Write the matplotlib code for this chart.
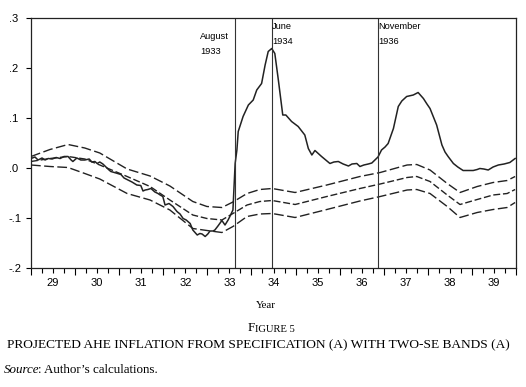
import matplotlib
matplotlib.use("Agg")
import matplotlib.pyplot as plt
import numpy as np

plt.rcParams['font.family'] = ['Liberation Sans', 'DejaVu Sans']

# two-SE band grid (years) and band values
band_t = [1929.00, 1929.43, 1929.84, 1930.22, 1930.56, 1931.18, 1931.70, 1932.15,
          1932.67, 1932.99, 1933.33, 1933.58, 1933.90, 1934.19, 1934.47, 1934.99,
          1935.71, 1936.46, 1936.92, 1937.53, 1937.75, 1938.05, 1938.44, 1938.73,
          1939.12, 1939.48, 1939.80, 1939.98]
band_upper = [0.023, 0.037, 0.047, 0.040, 0.030, -0.002, -0.016, -0.036,
              -0.067, -0.077, -0.079, -0.068, -0.051, -0.043, -0.041, -0.049,
              -0.034, -0.017, -0.009, 0.006, 0.007, -0.004, -0.031, -0.049,
              -0.037, -0.029, -0.025, -0.017]
band_mid = [0.013, 0.019, 0.023, 0.018, 0.006, -0.017, -0.037, -0.064,
            -0.094, -0.101, -0.104, -0.091, -0.074, -0.067, -0.065, -0.073,
            -0.057, -0.041, -0.032, -0.019, -0.017, -0.027, -0.054, -0.073,
            -0.063, -0.054, -0.051, -0.043]
band_lower = [0.006, 0.003, 0.001, -0.011, -0.022, -0.051, -0.064, -0.084,
              -0.121, -0.125, -0.129, -0.117, -0.097, -0.092, -0.091, -0.099,
              -0.083, -0.066, -0.057, -0.044, -0.043, -0.051, -0.077, -0.099,
              -0.089, -0.083, -0.079, -0.069]

# actual AHE inflation
ahe_t = [1929.00, 1929.09, 1929.16, 1929.25, 1929.32, 1929.39, 1929.48, 1929.57,
         1929.66, 1929.75, 1929.84, 1929.91, 1929.95, 1930.04, 1930.13, 1930.22,
         1930.32, 1930.38, 1930.45, 1930.50, 1930.56, 1930.63, 1930.70, 1930.77,
         1930.81, 1930.93, 1931.04, 1931.11, 1931.20, 1931.29, 1931.40, 1931.49,
         1931.54, 1931.59, 1931.65, 1931.72, 1931.81, 1931.88, 1931.93, 1931.99,
         1932.04, 1932.13, 1932.22, 1932.31, 1932.38, 1932.45, 1932.52, 1932.61,
         1932.67, 1932.77, 1932.83, 1932.88, 1932.95, 1933.01, 1933.06, 1933.13,
         1933.17, 1933.24, 1933.33, 1933.40, 1933.47, 1933.51, 1933.58, 1933.63,
         1933.67, 1933.70, 1933.81, 1933.93, 1934.04, 1934.12, 1934.23, 1934.31,
         1934.38, 1934.46, 1934.53, 1934.61, 1934.71, 1934.78, 1934.91, 1935.06,
         1935.21, 1935.29, 1935.37, 1935.44, 1935.59, 1935.78, 1935.87, 1935.97,
         1936.08, 1936.20, 1936.28, 1936.39, 1936.46, 1936.55, 1936.65, 1936.73,
         1936.80, 1936.87, 1936.95, 1937.03, 1937.10, 1937.22, 1937.33, 1937.41,
         1937.52, 1937.67, 1937.78, 1937.90, 1937.98, 1938.05, 1938.20, 1938.32,
         1938.39, 1938.46, 1938.58, 1938.68, 1938.80, 1938.91, 1939.03, 1939.12,
         1939.18, 1939.27, 1939.37, 1939.48, 1939.60, 1939.73, 1939.86, 1939.98]
ahe_v = [0.019, 0.022, 0.016, 0.020, 0.016, 0.019, 0.018, 0.021,
         0.019, 0.023, 0.023, 0.016, 0.013, 0.020, 0.016, 0.016,
         0.018, 0.012, 0.013, 0.009, 0.012, 0.008, 0.002, -0.004,
         -0.007, -0.010, -0.013, -0.020, -0.024, -0.028, -0.034, -0.035,
         -0.046, -0.044, -0.043, -0.041, -0.048, -0.051, -0.054, -0.057,
         -0.074, -0.071, -0.077, -0.087, -0.092, -0.101, -0.104, -0.111,
         -0.124, -0.134, -0.131, -0.132, -0.137, -0.132, -0.126, -0.126,
         -0.124, -0.116, -0.105, -0.114, -0.104, -0.097, -0.084, 0.009,
         0.036, 0.073, 0.103, 0.126, 0.136, 0.156, 0.169, 0.206,
         0.233, 0.239, 0.229, 0.176, 0.106, 0.106, 0.093, 0.083,
         0.066, 0.039, 0.026, 0.035, 0.023, 0.009, 0.012, 0.013,
         0.008, 0.004, 0.008, 0.009, 0.003, 0.006, 0.008, 0.010,
         0.016, 0.022, 0.036, 0.042, 0.049, 0.079, 0.123, 0.134,
         0.143, 0.146, 0.151, 0.139, 0.128, 0.119, 0.086, 0.046,
         0.032, 0.023, 0.009, 0.002, -0.005, -0.005, -0.005, -0.003,
         -0.001, -0.002, -0.004, 0.002, 0.006, 0.008, 0.011, 0.019]

events = [1933.625, 1934.458, 1936.875]
event_labels = [("August", "1933"), ("June", "1934"), ("November", "1936")]
event_label_x = [1932.83, 1934.47, 1936.88]
event_label_y = [(0.263, 0.233), (0.283, 0.253), (0.283, 0.253)]

years = list(range(1929, 1940))
year_labels = [str(y)[2:] for y in years]
y_ticks = [0.3, 0.2, 0.1, 0.0, -0.1, -0.2]
y_labels = ['.3', '.2', '.1', '.0', '-.1', '-.2']

fig = plt.figure(figsize=(5.26, 3.87), dpi=100)
ax = fig.add_axes([31 / 526, 1 - 268 / 387, 485 / 526, 250 / 387])

ax.plot(band_t, band_upper, color='#222', lw=1.0, ls=(0, (7, 2.5)))
ax.plot(band_t, band_mid, color='#222', lw=1.0, ls=(0, (5, 2)))
ax.plot(band_t, band_lower, color='#222', lw=1.0, ls=(0, (7, 2.5)))
ax.plot(ahe_t, ahe_v, color='#222', lw=1.1)

for x in events:
    ax.axvline(x, color='#333', lw=0.8)
for x, (a, b), (ya, yb) in zip(event_label_x, event_labels, event_label_y):
    ax.text(x, ya, a, fontsize=6.7, ha='left', va='center')
    ax.text(x, yb, b, fontsize=6.7, ha='left', va='center')

ax.set_xlim(1929, 1940)
ax.set_ylim(-0.2, 0.3)
ax.set_xticks(np.arange(1929, 1941), labels=[])
ax.set_xticks(np.arange(1929, 1940.01, 0.25), minor=True)
ax.tick_params(axis='x', which='major', length=5, width=0.8, direction='out')
ax.tick_params(axis='x', which='minor', length=3.5, width=0.8, direction='out')
for y, lab in zip(years, year_labels):
    ax.annotate(lab, xy=(y + 0.5, 0), xycoords=('data', 'axes fraction'),
                xytext=(0, -10.6), textcoords='offset points',
                ha='center', va='center', fontsize=8)

ax.set_yticks(y_ticks, labels=y_labels)
ax.tick_params(axis='y', length=3.5, width=0.8, pad=12.5, labelsize=8)
for t in ax.get_yticklabels():
    t.set_horizontalalignment('left')

for s in ax.spines.values():
    s.set_linewidth(0.9)
    s.set_color('#222')

serif = ['Liberation Serif', 'DejaVu Serif']
fig.text(266 / 526, 1 - 305 / 387, 'Year', family=serif, fontsize=7.8,
         ha='center', va='center')
f1 = fig.text(248 / 526, 1 - 328 / 387, 'F', family=serif, fontsize=9.4,
              ha='left', va='center')
ax.annotate('IGURE 5', xy=(1, 0), xycoords=f1, va='bottom', ha='left',
            family=serif, fontsize=7.6)
fig.text(258 / 526, 1 - 345 / 387,
         'PROJECTED AHE INFLATION FROM SPECIFICATION (A) WITH TWO-SE BANDS (A)',
         family=serif, fontsize=9.6, ha='center', va='center')
s1 = fig.text(4 / 526, 1 - 370 / 387, 'Source', family=serif, style='italic',
              fontsize=9.4, ha='left', va='center')
ax.annotate(': Author\u2019s calculations.', xy=(1, 0), xycoords=s1,
            xytext=(-1.2, 0), textcoords='offset points',
            va='bottom', ha='left', family=serif, fontsize=9.4)

fig.savefig('out.png', dpi=100)
